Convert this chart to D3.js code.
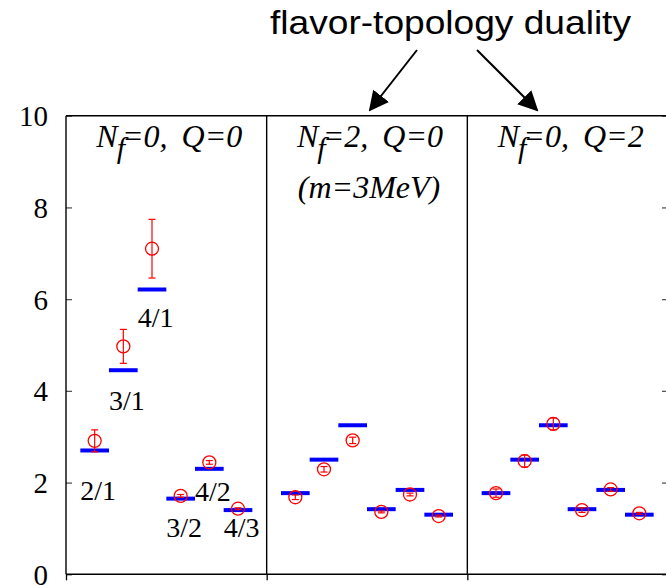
<!DOCTYPE html>
<html>
<head>
<meta charset="utf-8">
<script src="https://cdn.jsdelivr.net/npm/d3@7"></script>
<style>
  html, body { margin: 0; padding: 0; background: #fff; }
  svg { display: block; }
</style>
</head>
<body>
<svg id="chart" width="666" height="585"></svg>
<script>
// Mass ratios of glueball-like states in three ensembles
const ratioLabels = ["2/1", "3/1", "4/1", "3/2", "4/2", "4/3"];
const panelNf = ["0", "2", "0"];
const panelQ = ["0", "0", "2"];
const panelNote = ["", "(m=3MeV)", ""];

// blue bars: predicted ratios
const predicted = [
  [2.70, 4.45, 6.21, 1.65, 2.30, 1.40],
  [1.77, 2.50, 3.25, 1.42, 1.84, 1.30],
  [1.77, 2.50, 3.25, 1.42, 1.84, 1.30]
];
// red circles: measured ratios with errors
const measured = [
  [2.91, 4.97, 7.10, 1.71, 2.44, 1.43],
  [1.68, 2.29, 2.92, 1.36, 1.74, 1.27],
  [1.77, 2.47, 3.28, 1.40, 1.85, 1.33]
];
const measuredErr = [
  [0.24, 0.37, 0.64, 0.03, 0.04, 0.02],
  [0.05, 0.06, 0.07, 0.02, 0.03, 0.02],
  [0.09, 0.13, 0.13, 0.05, 0.04, 0.02]
];
const yTicks = [0, 2, 4, 6, 8, 10];
const annotation = "flavor-topology duality";

// vertical anchor (in y units) of each ratio label in the first panel
const labelLevels = [1.62, 3.58, 5.39, 0.81, 1.60, 0.81];

const svg = d3.select("#chart");
const slots = 7; // six ratios per panel, one slot of spacing
const x = d3.scaleLinear().domain([0, slots * 3]).range([66, 668]);
const y = d3.scaleLinear().domain([0, 10]).range([574.3, 115.7]);

const serif = "'Liberation Serif', 'Times New Roman', serif";

// left axis with inward ticks
const gL = svg.append("g").attr("transform", `translate(${x(0)},0)`)
  .call(d3.axisLeft(y).tickValues(yTicks).tickSizeInner(-6).tickSizeOuter(0).tickPadding(18));
gL.select(".domain").remove();
gL.selectAll(".tick line").attr("stroke", "#555").attr("stroke-width", 1.3);
gL.selectAll(".tick text").attr("font-family", serif).attr("font-size", 29)
  .attr("fill", "#000").attr("dy", "0.34em");

// right axis ticks only
const gR = svg.append("g").attr("transform", `translate(${x(slots * 3)},0)`)
  .call(d3.axisRight(y).tickValues(yTicks).tickSizeInner(-6).tickSizeOuter(0).tickFormat(""));
gR.select(".domain").remove();
gR.selectAll(".tick line").attr("stroke", "#555").attr("stroke-width", 1.3);

// bottom ticks at panel borders
const gB = svg.append("g").attr("transform", `translate(0,${y(0)})`)
  .call(d3.axisBottom(x).tickValues([0, slots, slots * 2, slots * 3]).tickSize(6).tickSizeOuter(0).tickFormat(""));
gB.select(".domain").remove();
gB.selectAll(".tick line").attr("stroke", "#000").attr("stroke-width", 1.3);

// frame and panel dividers
const frame = svg.append("g").attr("stroke", "#000").attr("stroke-width", 1.4).attr("fill", "none");
frame.append("line").attr("x1", x(0)).attr("x2", x(slots * 3)).attr("y1", y(10)).attr("y2", y(10));
frame.append("line").attr("x1", x(0)).attr("x2", x(slots * 3)).attr("y1", y(0)).attr("y2", y(0));
[0, slots, slots * 2, slots * 3].forEach(v => {
  frame.append("line").attr("x1", x(v)).attr("x2", x(v)).attr("y1", y(10)).attr("y2", y(0));
});

// panel titles
panelNf.forEach((nf, p) => {
  const cx = x(p * slots + slots / 2) + 3;
  const t = svg.append("text").attr("x", cx).attr("y", 147)
    .attr("text-anchor", "middle").attr("font-family", serif)
    .attr("font-style", "italic").attr("font-size", 32).attr("fill", "#000");
  t.append("tspan").text("N");
  t.append("tspan").attr("dy", 11).attr("dx", -1).attr("font-size", 30).text("f");
  t.append("tspan").attr("dy", -11).attr("dx", -3).text(`=${nf},`);
  t.append("tspan").attr("dx", 6).text(` Q=${panelQ[p]}`);
  if (panelNote[p]) {
    svg.append("text").attr("x", cx - 1).attr("y", 198)
      .attr("text-anchor", "middle").attr("font-family", serif)
      .attr("font-style", "italic").attr("font-size", 32).attr("fill", "#000")
      .text(panelNote[p]);
  }
});

// data marks
predicted.forEach((row, p) => {
  const g = svg.append("g");
  row.forEach((v, i) => {
    const c = p * slots + i + 1;
    g.append("line")
      .attr("x1", x(c - 0.5)).attr("x2", x(c + 0.5))
      .attr("y1", y(v)).attr("y2", y(v))
      .attr("stroke", "#0000ff").attr("stroke-width", 4);
  });
  measured[p].forEach((v, i) => {
    const c = p * slots + i + 1;
    const e = measuredErr[p][i];
    const cxp = x(c);
    g.append("line").attr("x1", cxp).attr("x2", cxp)
      .attr("y1", y(v + e)).attr("y2", y(v - e))
      .attr("stroke", "#ff0000").attr("stroke-width", 1.2);
    [v + e, v - e].forEach(w => {
      g.append("line").attr("x1", cxp - 3.5).attr("x2", cxp + 3.5)
        .attr("y1", y(w)).attr("y2", y(w))
        .attr("stroke", "#ff0000").attr("stroke-width", 1.2);
    });
    g.append("circle").attr("cx", cxp).attr("cy", y(v)).attr("r", 6.5)
      .attr("fill", "none").attr("stroke", "#ff0000").attr("stroke-width", 1.3);
  });
});

// ratio labels in the first panel
ratioLabels.forEach((lab, i) => {
  svg.append("text").attr("x", x(i + 0.5)).attr("y", y(labelLevels[i]))
    .attr("font-family", serif).attr("font-size", 28).attr("fill", "#000")
    .text(lab);
});

// annotation with arrows
svg.append("defs").append("marker")
  .attr("id", "head").attr("viewBox", "0 0 10 10")
  .attr("refX", 9).attr("refY", 5)
  .attr("markerUnits", "userSpaceOnUse")
  .attr("orient", "auto")
  .attr("markerWidth", 20).attr("markerHeight", 20)
  .append("path").attr("d", "M0,0 L10,5 L0,10 Z").attr("fill", "#000");

svg.append("text").attr("x", 270).attr("y", 34)
  .attr("font-family", "'Liberation Sans', Arial, sans-serif").attr("font-size", 34)
  .attr("textLength", 361).attr("lengthAdjust", "spacingAndGlyphs")
  .attr("fill", "#000").text(annotation);

svg.append("line").attr("x1", 417).attr("y1", 50).attr("x2", 370).attr("y2", 110)
  .attr("stroke", "#000").attr("stroke-width", 2).attr("marker-end", "url(#head)");
svg.append("line").attr("x1", 477).attr("y1", 50).attr("x2", 537).attr("y2", 110)
  .attr("stroke", "#000").attr("stroke-width", 2).attr("marker-end", "url(#head)");
</script>
</body>
</html>
